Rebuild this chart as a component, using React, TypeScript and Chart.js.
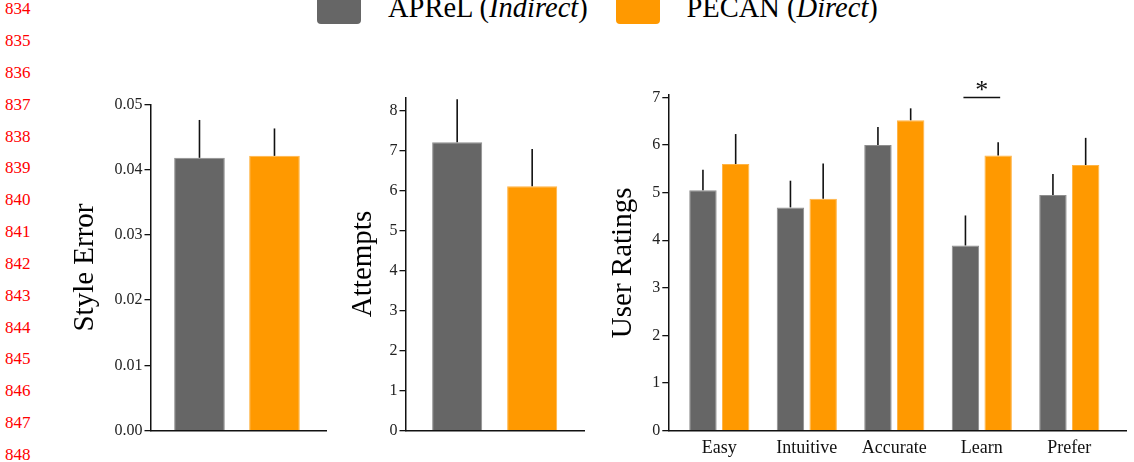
import React, { useEffect, useRef } from "react";
import { Chart, registerables } from "chart.js";

Chart.register(...registerables);

const FONT = "'Liberation Serif', 'Times New Roman', serif";
Chart.defaults.font.family = FONT;

// ---- data ----
const seriesNames = ["APReL", "PECAN"];
const seriesModes = ["Indirect", "Direct"];
const seriesColors = ["#666666", "#ff9900"];
const seriesEdgeColors = ["#8e8e8e", "#ffb445"];

const pairLabels = ["APReL", "PECAN"];

const styleErrorMeans = [0.0418, 0.0421];
const styleErrorErrors = [0.0058, 0.0042];

const attemptsMeans = [7.21, 6.11];
const attemptsErrors = [1.07, 0.93];

const ratingCategories = ["Easy", "Intuitive", "Accurate", "Learn", "Prefer"];
const aprelRatings = [5.05, 4.69, 6.0, 3.89, 4.95];
const aprelRatingErrors = [0.43, 0.56, 0.38, 0.63, 0.44];
const pecanRatings = [5.6, 4.87, 6.52, 5.78, 5.58];
const pecanRatingErrors = [0.63, 0.74, 0.25, 0.28, 0.57];

const significance = [{ category: "Learn", level: 7.0, mark: "*" }];

const lineNumbers = [834, 835, 836, 837, 838, 839, 840, 841, 842, 843, 844, 845, 846, 847, 848];

// ---- plugins ----
const errorBarPlugin = {
  id: "errorBars",
  afterDatasetsDraw(chart: any) {
    const ctx = chart.ctx;
    const yScale = chart.scales.y;
    chart.data.datasets.forEach((ds: any, di: number) => {
      if (!ds.errors) return;
      const meta = chart.getDatasetMeta(di);
      meta.data.forEach((bar: any, i: number) => {
        const raw = ds.data[i];
        const v = typeof raw === "number" ? raw : raw.y;
        const yTop = yScale.getPixelForValue(v + ds.errors[i]);
        ctx.save();
        ctx.strokeStyle = "#111";
        ctx.lineWidth = 1.6;
        ctx.beginPath();
        ctx.moveTo(bar.x, bar.y);
        ctx.lineTo(bar.x, yTop);
        ctx.stroke();
        ctx.restore();
      });
    });
  },
};

const significancePlugin = {
  id: "significance",
  afterDatasetsDraw(chart: any) {
    const ctx = chart.ctx;
    const yScale = chart.scales.y;
    significance.forEach((s) => {
      const idx = ratingCategories.indexOf(s.category);
      if (idx < 0) return;
      const a = chart.getDatasetMeta(0).data[idx];
      const b = chart.getDatasetMeta(1).data[idx];
      const y = yScale.getPixelForValue(s.level);
      ctx.save();
      ctx.strokeStyle = "#111";
      ctx.lineWidth = 1.5;
      ctx.beginPath();
      ctx.moveTo(a.x - 2, y);
      ctx.lineTo(b.x + 2, y);
      ctx.stroke();
      ctx.fillStyle = "#111";
      ctx.font = `26px ${FONT}`;
      ctx.textAlign = "center";
      ctx.textBaseline = "alphabetic";
      ctx.fillText(s.mark, (a.x + b.x) / 2, y + 0.6);
      ctx.restore();
    });
  },
};

type PanelOpts = {
  datasets: any[];
  xMin: number;
  xMax: number;
  xLabels: string[] | null;
  categoryCount: number;
  yMax: number;
  yStep: number;
  yFormat: (v: number) => string;
  yTitle: string;
  titlePad: number;
  yWidth: number;
  xHeight: number;
  padTop: number;
  padRight: number;
  catPct: number;
  barPct: number;
  extraPlugins: any[];
};

function makeConfig(o: PanelOpts): any {
  const axisColor = "#111";
  return {
    type: "bar",
    data: { datasets: o.datasets },
    plugins: [errorBarPlugin, ...o.extraPlugins],
    options: {
      responsive: false,
      animation: false,
      events: [],
      layout: { padding: { top: o.padTop, right: o.padRight, left: 0, bottom: 0 } },
      datasets: { bar: { categoryPercentage: o.catPct, barPercentage: o.barPct } },
      plugins: { legend: { display: false }, tooltip: { enabled: false } },
      scales: {
        x: {
          type: "linear",
          min: o.xMin,
          max: o.xMax,
          offset: false,
          grid: { display: false, drawTicks: false },
          border: { display: true, color: axisColor, width: 1.5 },
          afterBuildTicks: (scale: any) => {
            const t: any[] = [];
            for (let i = 0; i < o.categoryCount; i++) t.push({ value: i });
            scale.ticks = t;
          },
          afterFit: (scale: any) => {
            scale.height = o.xHeight;
          },
          ticks: {
            display: !!o.xLabels,
            autoSkip: false,
            maxRotation: 0,
            minRotation: 0,
            padding: 7,
            color: "#111",
            font: { family: FONT, size: 18 },
            callback: (v: any) => (o.xLabels ? o.xLabels[Math.round(v)] : ""),
          },
        },
        y: {
          min: 0,
          max: o.yMax,
          grid: {
            display: true,
            drawOnChartArea: false,
            drawTicks: true,
            tickLength: 6,
            tickWidth: 1.3,
            tickColor: axisColor,
            lineWidth: 1.3,
            color: axisColor,
          },
          border: { display: true, color: axisColor, width: 1.5 },
          afterFit: (scale: any) => {
            scale.width = o.yWidth;
          },
          ticks: {
            stepSize: o.yStep,
            includeBounds: false,
            padding: 2,
            color: "#222",
            font: { family: FONT, size: 16 },
            callback: (v: any) => o.yFormat(Number(v)),
          },
          title: {
            display: true,
            text: o.yTitle,
            color: "#000",
            font: { family: FONT, size: 29 },
            padding: { top: o.titlePad, bottom: 0 },
          },
        },
      },
    },
  };
}

function ChartCanvas(props: { left: number; top: number; width: number; height: number; build: () => any }) {
  const ref = useRef<HTMLCanvasElement>(null);
  useEffect(() => {
    const chart = new Chart(ref.current as HTMLCanvasElement, props.build());
    return () => chart.destroy();
  }, []);
  return (
    <canvas
      ref={ref}
      width={props.width}
      height={props.height}
      style={{ position: "absolute", left: props.left, top: props.top, width: props.width, height: props.height }}
    />
  );
}

const pairDataset = (means: number[], errors: number[]) => ({
  label: pairLabels.join(" / "),
  data: means.map((v, i) => ({ x: i, y: v })),
  errors,
  backgroundColor: seriesColors,
  borderColor: seriesEdgeColors,
  borderWidth: { top: 1, left: 1, right: 1, bottom: 0 },
});

const buildStyleError = () =>
  makeConfig({
    datasets: [pairDataset(styleErrorMeans, styleErrorErrors)],
    xMin: -0.653,
    xMax: 1.687,
    xLabels: null,
    categoryCount: styleErrorMeans.length,
    yMax: 0.05,
    yStep: 0.01,
    yFormat: (v) => v.toFixed(2),
    yTitle: "Style Error",
    titlePad: 27.6,
    yWidth: 110.5,
    xHeight: 31.3,
    padTop: 24.3,
    padRight: 4,
    catPct: 0.75,
    barPct: 0.9,
    extraPlugins: [],
  });

const buildAttempts = () =>
  makeConfig({
    datasets: [pairDataset(attemptsMeans, attemptsErrors)],
    xMin: -0.689,
    xMax: 1.691,
    xLabels: null,
    categoryCount: attemptsMeans.length,
    yMax: 8.33,
    yStep: 1,
    yFormat: (v) => String(Math.round(v)),
    yTitle: "Attempts",
    titlePad: 15.6,
    yWidth: 75.5,
    xHeight: 31.3,
    padTop: 17.3,
    padRight: 4,
    catPct: 0.75,
    barPct: 0.89,
    extraPlugins: [],
  });

const buildRatings = () =>
  makeConfig({
    datasets: [
      {
        label: seriesNames[0],
        data: aprelRatings.map((v, i) => ({ x: i, y: v })),
        errors: aprelRatingErrors,
        backgroundColor: seriesColors[0],
        borderColor: seriesEdgeColors[0],
        borderWidth: { top: 1, left: 1, right: 1, bottom: 0 },
      },
      {
        label: seriesNames[1],
        data: pecanRatings.map((v, i) => ({ x: i, y: v })),
        errors: pecanRatingErrors,
        backgroundColor: seriesColors[1],
        borderColor: seriesEdgeColors[1],
        borderWidth: { top: 1, left: 1, right: 1, bottom: 0 },
      },
    ],
    xMin: -0.583,
    xMax: 4.648,
    xLabels: ratingCategories,
    categoryCount: ratingCategories.length,
    yMax: 7.05,
    yStep: 1,
    yFormat: (v) => String(Math.round(v)),
    yTitle: "User Ratings",
    titlePad: 16.4,
    yWidth: 78.3,
    xHeight: 31.3,
    padTop: 35,
    padRight: 6,
    catPct: 0.748,
    barPct: 0.838,
    extraPlugins: [significancePlugin],
  });

export default function App() {
  const legendLeft = [317.3, 616.3];
  const legendTextLeft = [388, 686.5];
  return (
    <div
      style={{
        position: "absolute",
        left: 0,
        top: 0,
        width: 1134,
        height: 462,
        overflow: "hidden",
        background: "#fff",
        fontFamily: FONT,
      }}
    >
      {lineNumbers.map((n, i) => (
        <div
          key={n}
          style={{
            position: "absolute",
            left: 5,
            top: i * 31.84 + 0.2,
            fontSize: 17,
            lineHeight: "17px",
            color: "#f00",
          }}
        >
          {n}
        </div>
      ))}
      {seriesNames.map((name, i) => (
        <React.Fragment key={name}>
          <div
            style={{
              position: "absolute",
              left: legendLeft[i],
              top: -20,
              width: 44,
              height: 44,
              borderRadius: 4,
              background: seriesColors[i],
            }}
          />
          <div
            style={{
              position: "absolute",
              left: legendTextLeft[i],
              top: -6.3,
              fontSize: 28.5,
              lineHeight: "28.5px",
              whiteSpace: "nowrap",
              color: "#000",
            }}
          >
            {name} (<i>{seriesModes[i]}</i>)
          </div>
        </React.Fragment>
      ))}
      <ChartCanvas left={40} top={80} width={290} height={382} build={buildStyleError} />
      <ChartCanvas left={330} top={80} width={258} height={382} build={buildAttempts} />
      <ChartCanvas left={590} top={60} width={542} height={402} build={buildRatings} />
    </div>
  );
}
